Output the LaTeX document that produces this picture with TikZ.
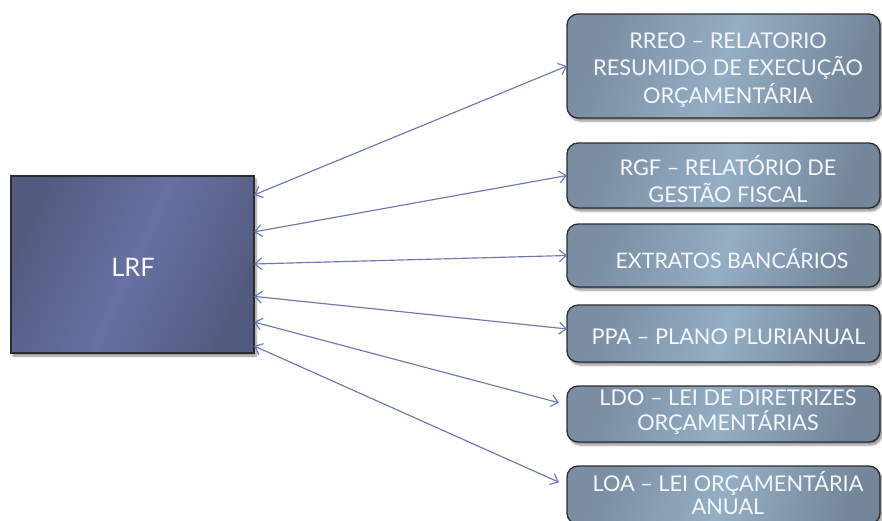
\documentclass[tikz,border=0pt]{standalone}
\usepackage{fontspec}
\setmainfont{Lato}
\usetikzlibrary{arrows.meta,calc,shadows.blur}

\definecolor{lrfdark}{HTML}{525B7F}
\definecolor{lrfmid}{HTML}{6771A2}
\definecolor{boxdark}{HTML}{7A8DA2}
\definecolor{boxmid}{HTML}{94AEC4}
\definecolor{edgedark}{HTML}{2C2C30}
\definecolor{linkblue}{HTML}{6A79B3}
\definecolor{labelwhite}{HTML}{F6F7FA}

\tikzset{
  softshadow/.style={blur shadow={shadow xshift=2pt, shadow yshift=-3pt,
      shadow blur steps=6, shadow opacity=45}},
  lawbox/.style={draw=edgedark, line width=1.3pt, rectangle, outer sep=0pt,
      minimum width=243pt, minimum height=177pt, softshadow,
      left color=lrfdark, right color=lrfdark, middle color=lrfmid, shading angle=65},
  docbox/.style={draw=edgedark, line width=1.3pt, rectangle, rounded corners=11pt,
      outer sep=0pt, minimum width=313pt, softshadow,
      left color=boxdark, right color=boxdark!95!black, middle color=boxmid, shading angle=70},
  doclabel/.style={text=labelwhite, align=center, inner sep=0pt},
  link/.style={draw=linkblue, line width=1.15pt,
      {Straight Barb[length=7pt,width=12pt]}-{Straight Barb[length=7pt,width=12pt]}},
}

\begin{document}
\begin{tikzpicture}[x=1pt, y=-1pt]
  \useasboundingbox (0,0) rectangle (882,520);
  \clip (0,0) rectangle (882,520);

  % central law
  \node[lawbox] (lrf) at (132.5,264.5) {};
  \node[text=labelwhite, font=\fontsize{25.5}{30}\selectfont] (lrflabel) at (133,267) {LRF};

  % related documents
  \node[docbox, minimum height=104pt] (r1) at (723.5,66) {};
  \node[docbox, minimum height=65pt]  (r2) at (723.5,175.5) {};
  \node[docbox, minimum height=63pt]  (r3) at (723.5,255.5) {};
  \node[docbox, minimum height=57pt]  (r4) at (723.5,333.5) {};
  \node[docbox, minimum height=56pt]  (r5) at (723.5,414) {};
  \node[docbox, minimum height=58pt]  (r6) at (723.5,495) {};

  \node[doclabel, font=\fontsize{21.7}{27.5}\selectfont] (t1) at (728,70)
    {RREO – RELATORIO\\RESUMIDO DE EXECUÇÃO\\ORÇAMENTÁRIA};
  \node[doclabel, font=\fontsize{21.7}{27}\selectfont] (t2) at (728,179)
    {RGF – RELATÓRIO DE\\GESTÃO FISCAL};
  \node[doclabel, font=\fontsize{21.4}{27}\selectfont] (t3) at (732,259)
    {EXTRATOS BANCÁRIOS};
  \node[doclabel, font=\fontsize{21.7}{27}\selectfont] (t4) at (728.5,337)
    {PPA – PLANO PLURIANUAL};
  \node[doclabel, font=\fontsize{21.7}{25}\selectfont] (t5) at (728,412)
    {LDO – LEI DE DIRETRIZES\\ORÇAMENTÁRIAS};
  \node[doclabel, font=\fontsize{21.7}{23}\selectfont] (t6) at (728,493)
    {LOA – LEI ORÇAMENTÁRIA\\ANUAL};

  % anchor points along the edges
  \coordinate (a1) at ($(lrf.north east)!0.107!(lrf.south east)$);
  \coordinate (a2) at ($(lrf.north east)!0.316!(lrf.south east)$);
  \coordinate (a3) at ($(lrf.north east)!0.497!(lrf.south east)$);
  \coordinate (a4) at ($(lrf.north east)!0.680!(lrf.south east)$);
  \coordinate (a5) at ($(lrf.north east)!0.825!(lrf.south east)$);
  \coordinate (a6) at ($(lrf.north east)!0.960!(lrf.south east)$);
  \coordinate (b4) at ($(r4.north west)!0.42!(r4.south west)$);
  \coordinate (b5) at ($([xshift=-8pt]r5.north west)!0.30!([xshift=-8pt]r5.south west)$);
  \coordinate (b6) at ($([xshift=-8pt]r6.north west)!0.28!([xshift=-8pt]r6.south west)$);

  % connectors
  \draw[link] (a1) -- (r1.west);
  \draw[link] (a2) -- (r2.west);
  \draw[link] (a3) -- (r3.west);
  \draw[link] (a4) -- (b4);
  \draw[link] (a5) -- (b5);
  \draw[link] (a6) -- (b6);
\end{tikzpicture}
\end{document}
